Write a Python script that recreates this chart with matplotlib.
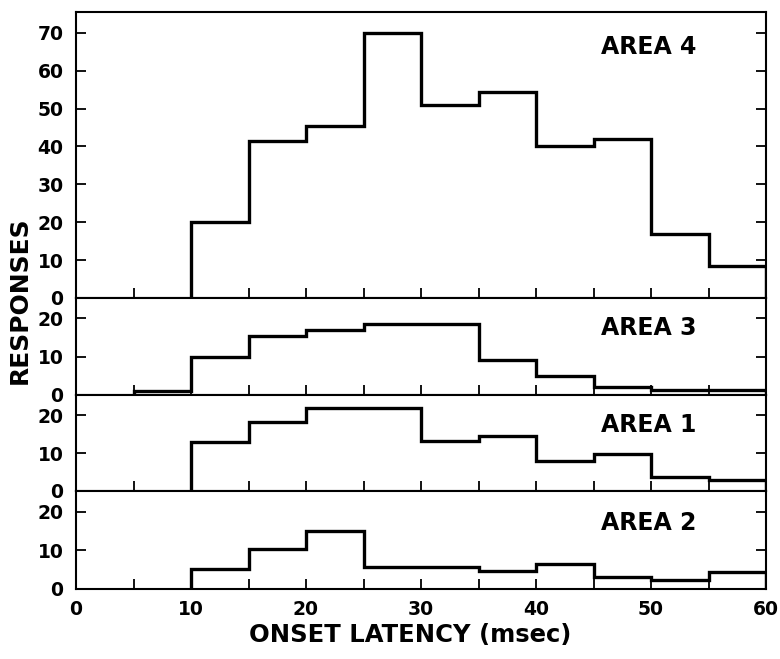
import matplotlib.pyplot as plt
import numpy as np

plt.rcParams['font.family'] = ['DejaVu Sans']
plt.rcParams['font.weight'] = 'bold'

# bin edges (msec) and counts
edges4 = np.arange(10, 61, 5)
area4 = [20, 41.5, 45.5, 70, 51, 54.5, 40, 42, 17, 8.5]

edges3 = np.arange(5, 61, 5)
area3 = [1, 10, 15.3, 17, 18.4, 18.4, 9, 5, 2, 1.2, 1.2]

edges1 = np.arange(10, 61, 5)
area1 = [12.8, 18.3, 22, 22, 13.3, 14.5, 8, 9.8, 3.8, 2.8]

edges2 = np.arange(10, 61, 5)
area2 = [5.2, 10.3, 15, 5.6, 5.6, 4.6, 6.5, 3.2, 2.3, 4.4]

panels = [
    ("AREA 4", edges4, area4, 75.5, [0, 10, 20, 30, 40, 50, 60, 70], 0.878),
    ("AREA 3", edges3, area3, 25.3, [0, 10, 20], 0.69),
    ("AREA 1", edges1, area1, 25.3, [0, 10, 20], 0.69),
    ("AREA 2", edges2, area2, 25.3, [0, 10, 20], 0.67),
]

fig = plt.figure(figsize=(7.8, 6.59), dpi=100)
W, H = 780, 659
left, right = 76, 766
bounds = [(12, 298), (298, 395), (395, 491), (491, 589)]

axes = []
for (name, e, v, ymax, yt, ty), (top, bot) in zip(panels, bounds):
    ax = fig.add_axes([left / W, 1 - bot / H, (right - left) / W, (bot - top) / H])
    ax.stairs(v, e, baseline=0, color='black', lw=2.4)
    ax.set_xlim(0, 60)
    ax.set_ylim(0, ymax)
    ax.set_yticks(yt)
    ax.set_xticks(np.arange(0, 61, 5))
    ax.tick_params(axis='both', direction='in', length=7, width=1.3,
                   labelsize=13.5, right=True, pad=9)
    ax.tick_params(axis='x', labelbottom=False)
    for s in ax.spines.values():
        s.set_linewidth(1.5)
    ax.text(0.761, ty, name, transform=ax.transAxes,
            ha='left', va='center', fontsize=17, fontweight='bold')
    axes.append(ax)

bx = axes[-1]
bx.tick_params(axis='x', labelbottom=True, pad=8)
bx.set_xticklabels([str(t) if t % 10 == 0 else '' for t in range(0, 61, 5)])
bx.set_xlabel('ONSET LATENCY (msec)', fontsize=17.5, fontweight='bold')
bx.xaxis.set_label_coords((410 - 76) / 690, -0.47)
bx.xaxis.label.set_va('center')

fig.text(20 / W, 1 - 300 / H, 'RESPONSES', rotation=90, ha='center', va='center',
         fontsize=18, fontweight='bold')

fig.savefig('out.png', dpi=100)
